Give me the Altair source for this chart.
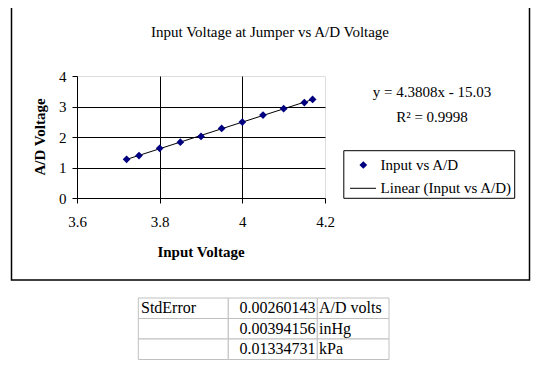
import altair as alt
import pandas as pd

# ---- data ----
input_v = [3.72, 3.75, 3.80, 3.85, 3.90, 3.95, 4.00, 4.05, 4.10, 4.15, 4.17]
ad_v = [1.27, 1.39, 1.63, 1.83, 2.02, 2.28, 2.49, 2.72, 2.93, 3.13, 3.23]
x_ticks = [3.6, 3.8, 4.0, 4.2]
y_ticks = [0, 1, 2, 3, 4]
chart_title = "Input Voltage at Jumper vs A/D Voltage"
x_title = "Input Voltage"
y_title = "A/D Voltage"
eq_lines = ["y = 4.3808x - 15.03", "R\u00b2 = 0.9998"]
legend_labels = ["Input vs A/D", "Linear (Input vs A/D)"]
tbl_label = ["StdError", "", ""]
tbl_value = ["0.00260143", "0.00394156", "0.01334731"]
tbl_unit = ["A/D volts", "inHg", "kPa"]

FONT = "Liberation Serif"
FS = 15
NAVY = "#000080"
W, H = 248, 122

df = pd.DataFrame({"x": input_v, "y": ad_v})
xs = alt.Scale(domain=[3.6, 4.2], nice=False, zero=False)
ys = alt.Scale(domain=[0, 4], nice=False, zero=False)

grid_op_x = {"condition": {"test": "datum.value <= 3.6 || datum.value >= 4.2", "value": 0}, "value": 1}
grid_op_y = {"condition": {"test": "datum.value <= 0 || datum.value >= 4", "value": 0}, "value": 1}


def x_axis():
    return alt.Axis(values=x_ticks, tickCount=4, title=None, grid=True, gridColor="black",
                    gridOpacity=grid_op_x, domainColor="black", tickColor="black", tickSize=5,
                    labelFont=FONT, labelFontSize=FS, labelColor="black", labelOverlap=False,
                    labelExpr="'' + datum.value", labelPadding=11, labelFlush=False)


def y_axis():
    return alt.Axis(values=y_ticks, tickCount=5, title=None, grid=True, gridColor="black",
                    gridOpacity=grid_op_y, domainColor="black", tickColor="black", tickSize=5,
                    labelFont=FONT, labelFontSize=FS, labelColor="black", labelOverlap=False,
                    labelExpr="'' + datum.value", labelPadding=6, labelFlush=False)


points = alt.Chart(df).mark_point(shape="diamond", filled=True, color=NAVY, size=60, opacity=1).encode(
    x=alt.X("x:Q", scale=xs, axis=x_axis()),
    y=alt.Y("y:Q", scale=ys, axis=y_axis()),
)
trend = alt.Chart(df).transform_regression("x", "y", method="linear").mark_line(
    color="black", strokeWidth=1).encode(
    x=alt.X("x:Q", scale=xs, axis=x_axis()),
    y=alt.Y("y:Q", scale=ys, axis=y_axis()),
)
main = alt.layer(trend, points)

# ---- decorations (layout only) ----
frame = alt.Chart(pd.DataFrame({"a": [0]})).mark_rect(filled=False, stroke="black", strokeWidth=1.5).encode(
    x=alt.value(-65.5), x2=alt.value(452.5), y=alt.value(-69.3), y2=alt.value(204))

title_mark = alt.Chart(pd.DataFrame({"t": [chart_title]})).mark_text(
    font=FONT, fontSize=FS, color="black", align="center", baseline="middle").encode(
    text="t:N", x=alt.value(193), y=alt.value(-44))

xt = alt.Chart(pd.DataFrame({"t": [x_title]})).mark_text(font=FONT, fontSize=FS, fontWeight="bold",
                                                         color="black", align="center", baseline="middle").encode(
    text="t:N", x=alt.value(W / 2), y=alt.value(176))
yt = alt.Chart(pd.DataFrame({"t": [y_title]})).mark_text(font=FONT, fontSize=FS, fontWeight="bold",
                                                         color="black", align="center", baseline="middle",
                                                         angle=270).encode(
    text="t:N", x=alt.value(-37), y=alt.value(H / 2))

eq1 = alt.Chart(pd.DataFrame({"t": [eq_lines[0]]})).mark_text(font=FONT, fontSize=FS, color="black",
                                                              align="center", baseline="middle").encode(
    text="t:N", x=alt.value(355), y=alt.value(15.7))
eq2 = alt.Chart(pd.DataFrame({"t": [eq_lines[1]]})).mark_text(font=FONT, fontSize=FS, color="black",
                                                              align="center", baseline="middle").encode(
    text="t:N", x=alt.value(355), y=alt.value(40.7))

leg_box = alt.Chart(pd.DataFrame({"a": [0]})).mark_rect(fill="white", stroke="black", strokeWidth=1).encode(
    x=alt.value(266.8), x2=alt.value(437.7), y=alt.value(74.7), y2=alt.value(122.3))
leg_pt = alt.Chart(pd.DataFrame({"a": [0]})).mark_point(shape="diamond", filled=True, color=NAVY, size=60,
                                                       opacity=1).encode(
    x=alt.value(286.3), y=alt.value(89))
leg_line = alt.Chart(pd.DataFrame({"a": [0]})).mark_rule(color="black", strokeWidth=1).encode(
    x=alt.value(273), x2=alt.value(299), y=alt.value(112.3))
leg_t1 = alt.Chart(pd.DataFrame({"t": [legend_labels[0]]})).mark_text(font=FONT, fontSize=FS, color="black",
                                                                      align="left", baseline="middle").encode(
    text="t:N", x=alt.value(303.6), y=alt.value(88.5))
leg_t2 = alt.Chart(pd.DataFrame({"t": [legend_labels[1]]})).mark_text(font=FONT, fontSize=FS, color="black",
                                                                      align="left", baseline="middle").encode(
    text="t:N", x=alt.value(303.6), y=alt.value(112))

# ---- table ----
TFS = 16
tdf = pd.DataFrame({"row": [0, 1, 2], "label": tbl_label, "value": tbl_value, "unit": tbl_unit})
tdf["top"] = tdf["row"] - 0.5
tdf["bot"] = tdf["row"] + 0.5
ts = alt.Scale(domain=[-0.5, 2.5], range=[222, 283.5], nice=False, zero=False)
col_edges = [(61.3, 151.3), (151.3, 240.3), (240.3, 312)]
cells = []
for (a, b) in col_edges:
    cells.append(alt.Chart(tdf).mark_rect(fill="white", stroke="#c0c0c0", strokeWidth=1).encode(
        x=alt.value(a), x2=alt.value(b),
        y=alt.Y("top:Q", scale=ts, axis=None), y2="bot:Q"))
t_lab = alt.Chart(tdf).mark_text(font=FONT, fontSize=TFS, color="black", align="left", baseline="middle").encode(
    text="label:N", x=alt.value(64), y=alt.Y("row:Q", scale=ts, axis=None))
t_val = alt.Chart(tdf).mark_text(font=FONT, fontSize=TFS, color="black", align="right", baseline="middle").encode(
    text="value:N", x=alt.value(238.5), y=alt.Y("row:Q", scale=ts, axis=None))
t_unit = alt.Chart(tdf).mark_text(font=FONT, fontSize=TFS, color="black", align="left", baseline="middle").encode(
    text="unit:N", x=alt.value(242), y=alt.Y("row:Q", scale=ts, axis=None))
table = alt.layer(*cells, t_lab, t_val, t_unit)

chart = alt.layer(
    frame, main, title_mark, xt, yt, eq1, eq2, leg_box, leg_pt, leg_line, leg_t1, leg_t2, table
).resolve_scale(y="independent").properties(
    width=W, height=H,
    padding={"left": 69, "top": 68, "right": 208, "bottom": 166},
    autosize=alt.AutoSizeParams(type="none"),
).configure_view(fill="#dddddd", stroke="#808080", strokeWidth=1).configure(background="white")

chart.save("out.html", embed_options={"renderer": "svg", "actions": False})
